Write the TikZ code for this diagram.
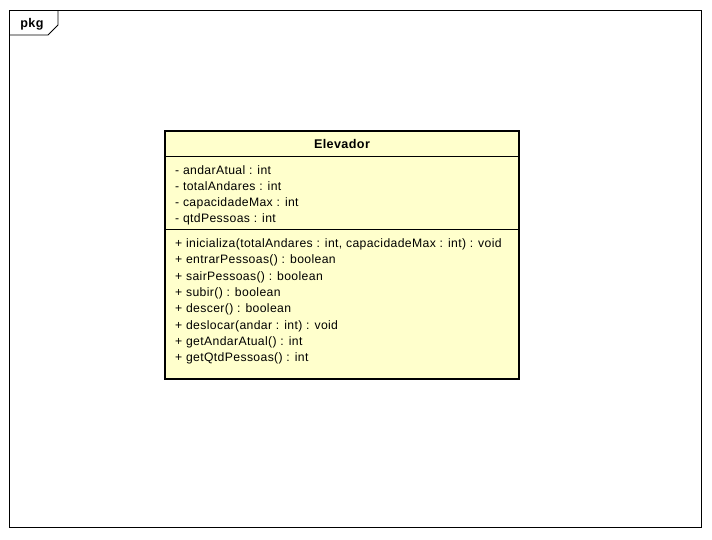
\documentclass[tikz,border=0pt]{standalone}
\usepackage{fontspec}
\setmainfont{Liberation Sans}
\newfontfamily\umlfont[LetterSpace=3.0]{Liberation Sans}
\definecolor{classfill}{RGB}{255,255,204}

\begin{document}
\begin{tikzpicture}[x=1pt, y=-1pt]
            \tikzstyle{member}=[anchor=base west,inner sep=0pt,font=\umlfont\fontsize{12.2}{14}\selectfont]
            \tikzstyle{title}=[anchor=base,inner sep=0pt,font=\umlfont\fontsize{12.6}{14}\selectfont\bfseries]
            \useasboundingbox (0,0) rectangle (712,539);

            % package frame
            \draw[line width=0.8pt] (9,10) rectangle (701,527);
            \draw[line width=0.8pt] (9,35) -- (48,35) -- (58,25) -- (58,10);
            \node[title] (pkg) at (32,27) {pkg};

            % class
            \draw[line width=1.6pt, fill=classfill] (165,131) rectangle (519,379);
            \draw[line width=0.8pt] (165,156) -- (519,156);
            \draw[line width=0.8pt] (165,229) -- (519,229);
            \node[title] (Elevador) at (342,148.5) {Elevador};

            \node[member] (A_1) at (175,174) {- andarAtual : int};
            \node[member] (A_2) at (175,190.5) {- totalAndares : int};
            \node[member] (A_3) at (175,206.5) {- capacidadeMax : int};
            \node[member] (A_4) at (175,222.5) {- qtdPessoas : int};

            \node[member] (M_1) at (175,247.5) {+ inicializa(totalAndares : int, capacidadeMax : int) : void};
            \node[member] (M_2) at (175,263.5) {+ entrarPessoas() : boolean};
            \node[member] (M_3) at (175,280.5) {+ sairPessoas() : boolean};
            \node[member] (M_4) at (175,296.5) {+ subir() : boolean};
            \node[member] (M_5) at (175,312.5) {+ descer() : boolean};
            \node[member] (M_6) at (175,329.5) {+ deslocar(andar : int) : void};
            \node[member] (M_7) at (175,345.5) {+ getAndarAtual() : int};
            \node[member] (M_8) at (175,361.5) {+ getQtdPessoas() : int};
        \end{tikzpicture}
\end{document}
